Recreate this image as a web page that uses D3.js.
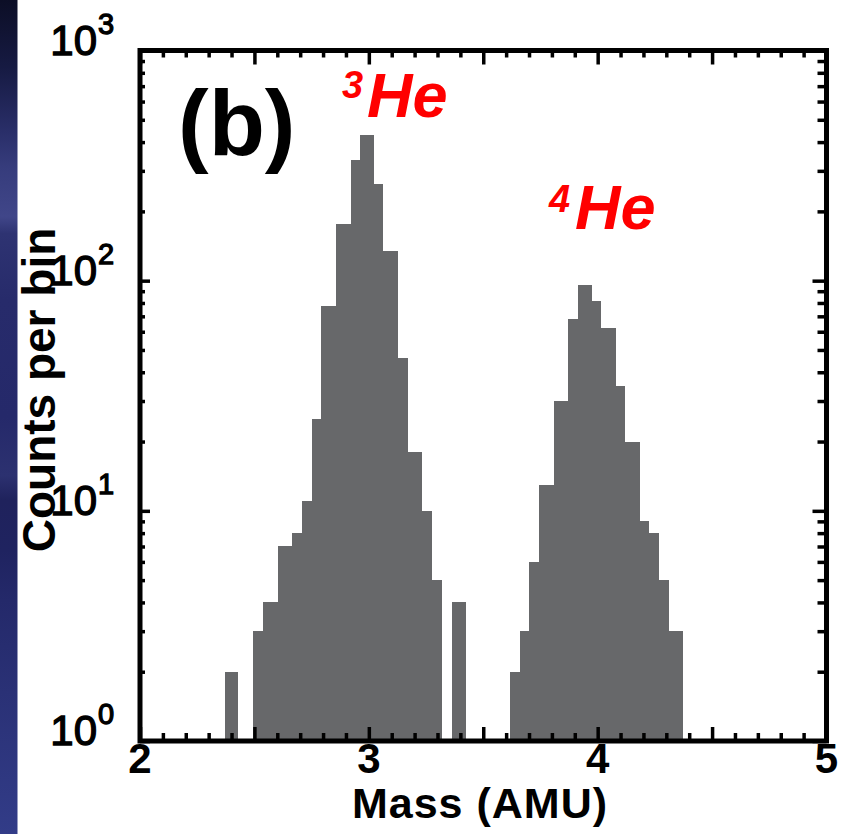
<!DOCTYPE html>
<html>
<head>
<meta charset="utf-8">
<script src="https://cdn.jsdelivr.net/npm/d3@7"></script>
<style>
  html, body { margin: 0; padding: 0; background: #ffffff; }
  svg { display: block; }
  text { font-family: "Liberation Sans", Arial, Helvetica, sans-serif; }
</style>
</head>
<body>
<svg id="chart" width="848" height="834"></svg>
<script>
// Helium mass histogram: counts per mass bin (AMU), log scale.
// Bin edges (lower / upper, AMU) and counts for every bar.
const binLo = [2.371, 2.495, 2.539, 2.602, 2.666, 2.707, 2.750, 2.791, 2.855, 2.921, 2.961,
               3.023, 3.063, 3.129, 3.172, 3.231, 3.277, 3.362,
               3.617, 3.661, 3.701, 3.744, 3.808, 3.870, 3.913, 3.974, 4.015, 4.079,
               4.121, 4.185, 4.226, 4.269, 4.312];
const binHi = [2.430, 2.539, 2.602, 2.666, 2.707, 2.750, 2.791, 2.855, 2.921, 2.961, 3.023,
               3.063, 3.129, 3.172, 3.231, 3.277, 3.321, 3.423,
               3.661, 3.701, 3.744, 3.808, 3.870, 3.913, 3.974, 4.015, 4.079, 4.121,
               4.185, 4.226, 4.269, 4.312, 4.374];
const counts = [2, 3, 4, 7, 8, 11, 25, 78, 177, 334, 429,
                263, 134, 46, 18, 10, 5, 4,
                2, 3, 6, 13, 30, 68, 96, 82, 62, 35,
                20, 9, 8, 5, 3];

// Axis ticks and labels
const xMajorTicks = [2, 2.5, 3, 3.5, 4, 4.5, 5];
const xMinorTicks = [2.1, 2.2, 2.3, 2.4, 2.6, 2.7, 2.8, 2.9, 3.1, 3.2, 3.3, 3.4,
                     3.6, 3.7, 3.8, 3.9, 4.1, 4.2, 4.3, 4.4, 4.6, 4.7, 4.8, 4.9];
const xTickLabels = [2, 3, 4, 5];
const yMajorTicks = [1, 10, 100, 1000];
const yMinorTicks = [2, 3, 4, 5, 6, 7, 8, 9, 20, 30, 40, 50, 60, 70, 80, 90,
                     200, 300, 400, 500, 600, 700, 800, 900];
const yTickExponents = [0, 1, 2, 3];

const peakLabels = [
  { mass: "3", element: "He" },
  { mass: "4", element: "He" }
];

const svg = d3.select("#chart");

// Left-hand backdrop strip
const defs = svg.append("defs");
const grad = defs.append("linearGradient")
  .attr("id", "strip").attr("x1", 0).attr("y1", 0).attr("x2", 0).attr("y2", 1);
[[0, "#0c0e26"], [0.08, "#161a42"], [0.16, "#2a2f6a"], [0.2, "#363c7c"],
 [0.26, "#404689"], [0.28, "#2e3372"], [0.36, "#272b6b"], [0.5, "#25296a"],
 [0.57, "#2c3170"], [0.6, "#1f225c"], [0.66, "#1f2360"], [0.72, "#24296a"],
 [0.83, "#2a3176"], [1, "#323c88"]].forEach(([o, c]) =>
  grad.append("stop").attr("offset", o).attr("stop-color", c));
svg.append("rect").attr("x", 0).attr("y", 0).attr("width", 17.5).attr("height", 834)
  .attr("fill", "url(#strip)");

const plotL = 140, plotR = 826.5, plotT = 50.5, plotB = 741;
const x = d3.scaleLinear().domain([2, 5]).range([plotL, plotR]);
const y = d3.scaleLog().domain([1, 1000]).range([plotB, plotT]);

// Histogram bars
svg.append("g").selectAll("rect")
  .data(counts)
  .join("rect")
  .attr("x", (d, i) => x(binLo[i]))
  .attr("width", (d, i) => x(binHi[i]) - x(binLo[i]))
  .attr("y", d => y(d))
  .attr("height", d => y(1) - y(d))
  .attr("fill", "#67686a")
  .attr("shape-rendering", "crispEdges");

// Inward ticks on all four sides
function ticks(axis, transform) {
  const g = svg.append("g").attr("transform", transform).call(axis);
  g.select(".domain").remove();
  g.selectAll(".tick text").remove();
  g.selectAll(".tick line").attr("stroke", "#000").attr("stroke-width", 3.5);
  return g;
}
ticks(d3.axisBottom(x).tickValues(xMajorTicks).tickSize(-14), `translate(0,${plotB})`);
ticks(d3.axisBottom(x).tickValues(xMinorTicks).tickSize(-8), `translate(0,${plotB})`);
ticks(d3.axisTop(x).tickValues(xMajorTicks).tickSize(-14), `translate(0,${plotT})`);
ticks(d3.axisTop(x).tickValues(xMinorTicks).tickSize(-7), `translate(0,${plotT})`);
ticks(d3.axisLeft(y).tickValues(yMajorTicks).tickSize(-10), `translate(${plotL},0)`);
ticks(d3.axisLeft(y).tickValues(yMinorTicks).tickSize(-5), `translate(${plotL},0)`);
ticks(d3.axisRight(y).tickValues(yMajorTicks).tickSize(-14), `translate(${plotR},0)`);
ticks(d3.axisRight(y).tickValues(yMinorTicks).tickSize(-9), `translate(${plotR},0)`);

// Plot frame
svg.append("rect")
  .attr("x", plotL).attr("y", plotT)
  .attr("width", plotR - plotL).attr("height", plotB - plotT)
  .attr("fill", "none").attr("stroke", "#000").attr("stroke-width", 5);

// X tick labels
svg.append("g").selectAll("text")
  .data(xTickLabels)
  .join("text")
  .attr("x", d => x(d))
  .attr("y", plotB + 32)
  .attr("text-anchor", "middle")
  .attr("font-size", 42)
  .attr("font-weight", "bold")
  .attr("fill", "#000")
  .text(d => d);

// Y tick labels: 10 with superscript exponent (medium weight via thin outline)
const yl = svg.append("g").selectAll("g")
  .data(yTickExponents)
  .join("g")
  .attr("fill", "#000")
  .attr("stroke", "#000")
  .attr("stroke-width", 1.3);
yl.append("text")
  .attr("x", 97).attr("y", d => y(Math.pow(10, d)) + 4)
  .attr("text-anchor", "end")
  .attr("font-size", 42)
  .text("10");
yl.append("text")
  .attr("x", 98).attr("y", d => y(Math.pow(10, d)) - 17)
  .attr("font-size", 29)
  .text(d => d);

// Axis titles
svg.append("text")
  .attr("x", 480).attr("y", 818)
  .attr("text-anchor", "middle")
  .attr("font-size", 43).attr("font-weight", "bold")
  .attr("letter-spacing", 1)
  .text("Mass (AMU)");
svg.append("text")
  .attr("transform", "translate(55,390) rotate(-90)")
  .attr("text-anchor", "middle")
  .attr("font-size", 46).attr("font-weight", "bold")
  .text("Counts per bin");

// Panel tag
svg.append("text")
  .attr("x", 178).attr("y", 155)
  .attr("font-size", 92).attr("font-weight", "bold")
  .text("(b)");

// Peak labels
const peakPos = [
  { sx: 342, sy: 98, ex: 367, ey: 117 },
  { sx: 549, sy: 212, ex: 575, ey: 229 }
];
peakLabels.forEach((p, i) => {
  const pos = peakPos[i];
  svg.append("text")
    .attr("x", pos.sx).attr("y", pos.sy)
    .attr("font-size", 38).attr("font-weight", "bold").attr("font-style", "italic")
    .attr("fill", "#ff0000")
    .text(p.mass);
  svg.append("text")
    .attr("x", pos.ex).attr("y", pos.ey)
    .attr("font-size", 63).attr("font-weight", "bold").attr("font-style", "italic")
    .attr("fill", "#ff0000")
    .text(p.element);
});
</script>
</body>
</html>
